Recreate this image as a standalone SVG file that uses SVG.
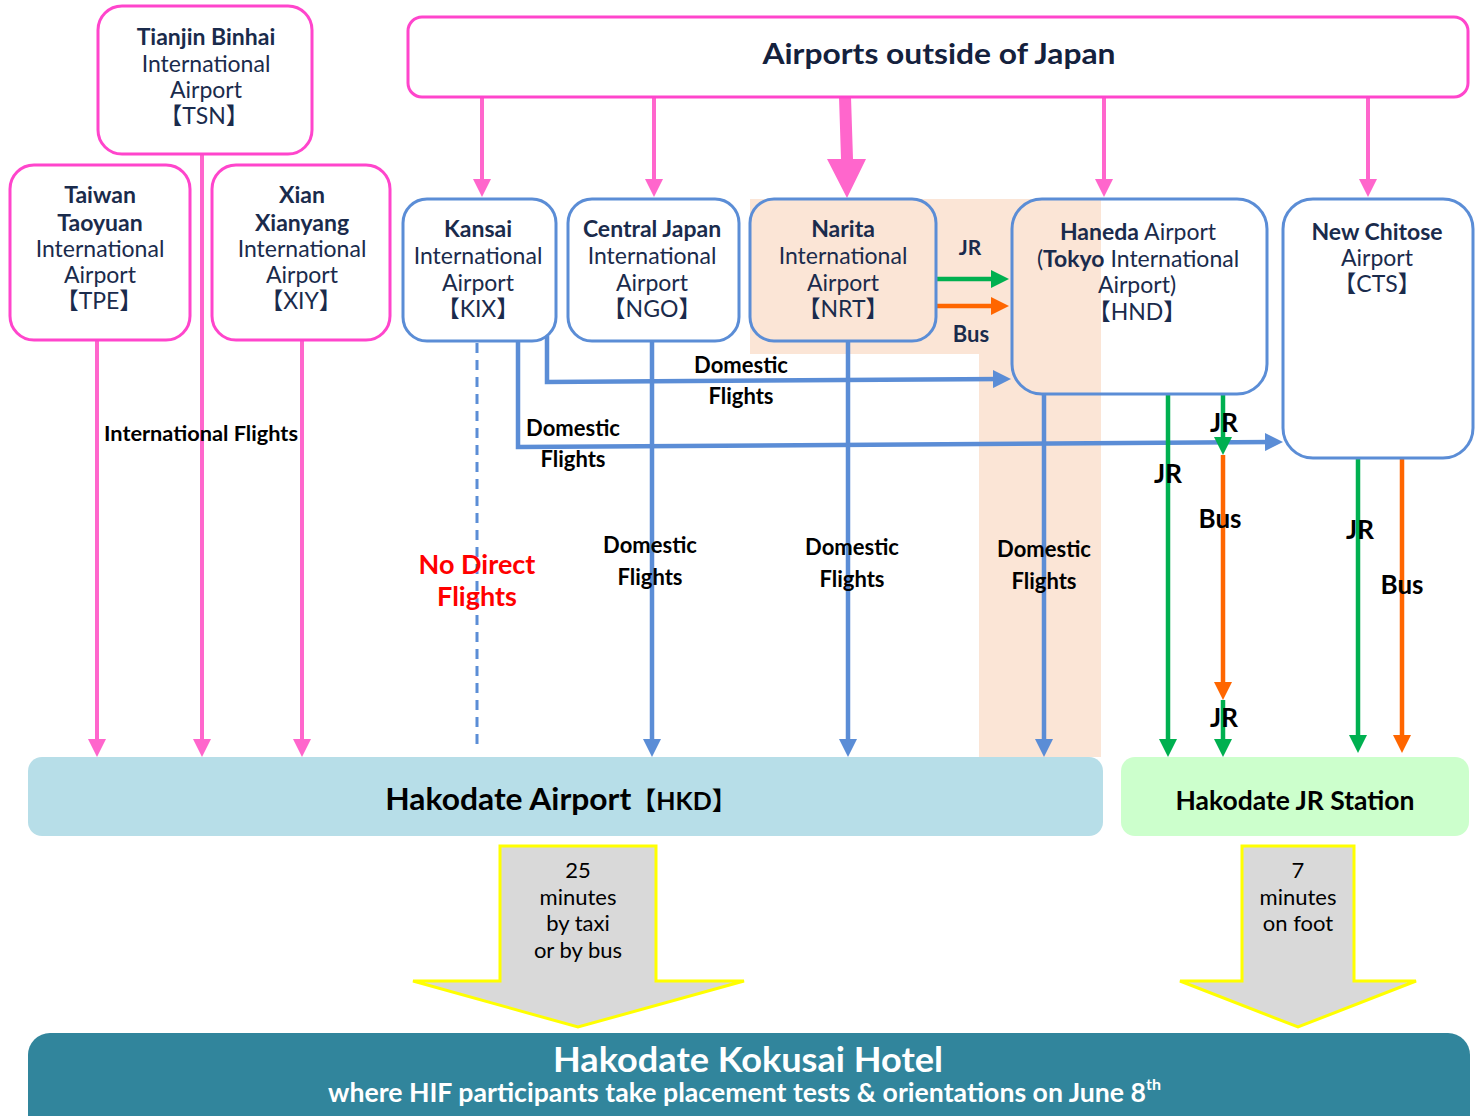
<svg xmlns="http://www.w3.org/2000/svg" width="1482" height="1116" viewBox="0 0 1482 1116">
<style>
text{font-family:Lato,"Noto Sans CJK JP",sans-serif;text-anchor:middle}
.n{fill:#1a2b4c;font-size:23px}
.b{font-weight:700}
.lbl{font-weight:700;fill:#000;font-size:22px}
.tr{font-weight:700;fill:#000;font-size:26px}
.pbox{fill:#fff;stroke:#FF45CC;stroke-width:3}
.bbox{fill:#fff;stroke:#5B8DD6;stroke-width:3}
.pk{stroke:#FF66CC;stroke-width:4;fill:none;marker-end:url(#mp)}
.bl{stroke:#5B8DD6;stroke-width:4.5;fill:none;marker-end:url(#mb)}
.gr{stroke:#00B050;stroke-width:4.5;fill:none;marker-end:url(#mg)}
.or{stroke:#FF6600;stroke-width:4.5;fill:none;marker-end:url(#mo)}
.blk{fill:#D9D9D9;stroke:#FFFF00;stroke-width:3}
.gt{font-size:22px;fill:#000}
</style>
<defs>
<marker id="mp" viewBox="0 0 18 18" refX="10" refY="9" markerWidth="18" markerHeight="18" markerUnits="userSpaceOnUse" orient="auto"><path d="M0,0 L18,9 L0,18 z" fill="#FF66CC"/></marker>
<marker id="mb" viewBox="0 0 18 18" refX="10" refY="9" markerWidth="18" markerHeight="18" markerUnits="userSpaceOnUse" orient="auto"><path d="M0,0 L18,9 L0,18 z" fill="#5B8DD6"/></marker>
<marker id="mg" viewBox="0 0 18 18" refX="10" refY="9" markerWidth="18" markerHeight="18" markerUnits="userSpaceOnUse" orient="auto"><path d="M0,0 L18,9 L0,18 z" fill="#00B050"/></marker>
<marker id="mo" viewBox="0 0 18 18" refX="10" refY="9" markerWidth="18" markerHeight="18" markerUnits="userSpaceOnUse" orient="auto"><path d="M0,0 L18,9 L0,18 z" fill="#FF6600"/></marker>
</defs>
<rect width="1482" height="1116" fill="#fff"/>
<!-- peach highlight -->
<polygon points="750,199 1101,199 1101,757 979,757 979,354 750,354" fill="#FBE5D6"/>

<!-- bottom bars -->
<g id="hkd">
<rect x="28" y="757" width="1075" height="79" rx="14" fill="#B7DEE8"/>
<text x="561" y="810" class="b" style="font-size:31px;fill:#000"><tspan textLength="246" lengthAdjust="spacingAndGlyphs">Hakodate Airport</tspan><tspan style="font-size:25px">【HKD】</tspan></text>
</g>
<g id="jrstation">
<rect x="1121" y="757" width="348" height="79" rx="14" fill="#CCFFCC"/>
<text x="1295" y="810" class="b" style="font-size:27px;fill:#000" textLength="239" lengthAdjust="spacingAndGlyphs">Hakodate JR Station</text>
</g>
<g id="hotel">
<rect x="28" y="1033" width="1442" height="130" rx="22" fill="#31859C"/>
<text x="748" y="1072" class="b" style="font-size:35px;fill:#fff" textLength="390" lengthAdjust="spacingAndGlyphs">Hakodate Kokusai Hotel</text>
<text x="737" y="1102" class="b" style="font-size:26px;fill:#fff;text-anchor:start" transform="translate(-409,0)"><tspan textLength="818" lengthAdjust="spacingAndGlyphs">where HIF participants take placement tests &amp; orientations on June 8</tspan><tspan dy="-12" style="font-size:16px">th</tspan></text>
</g>

<!-- connectors -->
<g id="connectors">
<line class="pk" x1="97" y1="341" x2="97" y2="749"/>
<line class="pk" x1="202" y1="154" x2="202" y2="749"/>
<line class="pk" x1="302" y1="341" x2="302" y2="749"/>
<line class="pk" x1="482" y1="97" x2="482" y2="189"/>
<line class="pk" x1="654" y1="97" x2="654" y2="189"/>
<line class="pk" x1="1104" y1="97" x2="1104" y2="189"/>
<line class="pk" x1="1368" y1="97" x2="1368" y2="189"/>
<polygon points="839,97 851,97 853,159 866,159 847,198 827,159 841,159" fill="#FF66CC"/>
<line x1="477" y1="343" x2="477" y2="751" stroke="#5B8DD6" stroke-width="3" stroke-dasharray="10 7"/>
<polyline class="bl" points="547,336 547,382 1003,379"/>
<polyline class="bl" points="518,341 518,447 1275,442"/>
<line class="bl" x1="652" y1="341" x2="652" y2="749"/>
<line class="bl" x1="848" y1="341" x2="848" y2="749"/>
<line class="bl" x1="1044" y1="394" x2="1044" y2="749"/>
<line class="gr" x1="937" y1="279" x2="1001" y2="279"/>
<line class="or" x1="937" y1="306" x2="1001" y2="306"/>
<line class="gr" x1="1168" y1="394" x2="1168" y2="749"/>
<line class="gr" x1="1223" y1="394" x2="1223" y2="447"/>
<line class="or" x1="1223" y1="455" x2="1223" y2="692"/>
<line class="gr" x1="1223" y1="700" x2="1223" y2="749"/>
<line class="gr" x1="1358" y1="458" x2="1358" y2="745"/>
<line class="or" x1="1402" y1="458" x2="1402" y2="745"/>
<polygon class="blk" points="500,846 656,846 656,981 744,981 578,1027 413,981 500,981"/>
<polygon class="blk" points="1242,846 1354,846 1354,981 1416,981 1298,1027 1180,981 1242,981"/>
</g>

<!-- connector labels -->
<g id="labels">
<text x="201" y="441" class="lbl" style="font-size:21px" textLength="194" lengthAdjust="spacingAndGlyphs">International Flights</text>
<text x="741" y="373" class="lbl">Domestic</text><text x="741" y="404" class="lbl">Flights</text>
<text x="573" y="436" class="lbl">Domestic</text><text x="573" y="467" class="lbl">Flights</text>
<text x="650" y="553" class="lbl">Domestic</text><text x="650" y="585" class="lbl">Flights</text>
<text x="852" y="555" class="lbl">Domestic</text><text x="852" y="587" class="lbl">Flights</text>
<text x="1044" y="557" class="lbl">Domestic</text><text x="1044" y="589" class="lbl">Flights</text>
<text x="477" y="574" class="b" style="font-size:27px;fill:#FF0000">No Direct</text>
<text x="477" y="606" class="b" style="font-size:27px;fill:#FF0000">Flights</text>
<text x="970" y="255" class="b" style="font-size:21px;fill:#1a2b4c">JR</text>
<text x="971" y="342" class="b" style="font-size:22px;fill:#1a2b4c">Bus</text>
<text x="1224" y="432" class="tr">JR</text>
<text x="1168" y="483" class="tr">JR</text>
<text x="1220" y="528" class="tr">Bus</text>
<text x="1360" y="539" class="tr">JR</text>
<text x="1402" y="594" class="tr">Bus</text>
<text x="1224" y="727" class="tr">JR</text>
<text x="578" y="878" class="gt">25</text>
<text x="578" y="905" class="gt">minutes</text>
<text x="578" y="931" class="gt">by taxi</text>
<text x="578" y="958" class="gt">or by bus</text>
<text x="1298" y="878" class="gt">7</text>
<text x="1298" y="905" class="gt">minutes</text>
<text x="1298" y="931" class="gt">on foot</text>
</g>

<!-- nodes -->
<g id="tsn">
<rect class="pbox" x="98" y="6" width="214" height="148" rx="24"/>
<text x="206" y="45" class="n b">Tianjin Binhai</text>
<text x="206" y="72" class="n">International</text>
<text x="206" y="98" class="n">Airport</text>
<text x="204" y="124" class="n">【TSN】</text>
</g>
<g id="tpe">
<rect class="pbox" x="10" y="165" width="180" height="175" rx="24"/>
<text x="100" y="203" class="n b">Taiwan</text>
<text x="100" y="231" class="n b">Taoyuan</text>
<text x="100" y="257" class="n">International</text>
<text x="100" y="283" class="n">Airport</text>
<text x="99" y="309" class="n">【TPE】</text>
</g>
<g id="xiy">
<rect class="pbox" x="212" y="165" width="178" height="175" rx="24"/>
<text x="302" y="203" class="n b">Xian</text>
<text x="302" y="231" class="n b">Xianyang</text>
<text x="302" y="257" class="n">International</text>
<text x="302" y="283" class="n">Airport</text>
<text x="301" y="309" class="n">【XIY】</text>
</g>
<g id="outside">
<rect class="pbox" x="408" y="17" width="1060" height="80" rx="14"/>
<text x="939" y="64" class="b" style="font-size:29px;fill:#14213d" textLength="353" lengthAdjust="spacingAndGlyphs">Airports outside of Japan</text>
</g>
<g id="kix">
<rect class="bbox" x="403" y="199" width="153" height="142" rx="24"/>
<text x="478" y="237" class="n b">Kansai</text>
<text x="478" y="264" class="n">International</text>
<text x="478" y="291" class="n">Airport</text>
<text x="478" y="317" class="n">【KIX】</text>
</g>
<g id="ngo">
<rect class="bbox" x="568" y="199" width="171" height="142" rx="24"/>
<text x="652" y="237" class="n b">Central Japan</text>
<text x="652" y="264" class="n">International</text>
<text x="652" y="291" class="n">Airport</text>
<text x="652" y="317" class="n">【NGO】</text>
</g>
<g id="nrt">
<rect class="bbox" x="750" y="199" width="186" height="142" rx="24" style="fill:#FBE5D6"/>
<text x="843" y="237" class="n b">Narita</text>
<text x="843" y="264" class="n">International</text>
<text x="843" y="291" class="n">Airport</text>
<text x="843" y="317" class="n">【NRT】</text>
</g>
<g id="hnd">
<rect class="bbox" x="1012" y="199" width="255" height="195" rx="30" style="fill:none"/>
<text x="1138" y="240" class="n"><tspan class="b">Haneda</tspan> Airport</text>
<text x="1138" y="267" class="n">(<tspan class="b">Tokyo</tspan> International</text>
<text x="1137" y="293" class="n">Airport)</text>
<text x="1137" y="320" class="n">【HND】</text>
</g>
<g id="cts">
<rect class="bbox" x="1283" y="199" width="190" height="259" rx="30"/>
<text x="1377" y="240" class="n b">New Chitose</text>
<text x="1377" y="266" class="n">Airport</text>
<text x="1377" y="292" class="n">【CTS】</text>
</g>
</svg>
